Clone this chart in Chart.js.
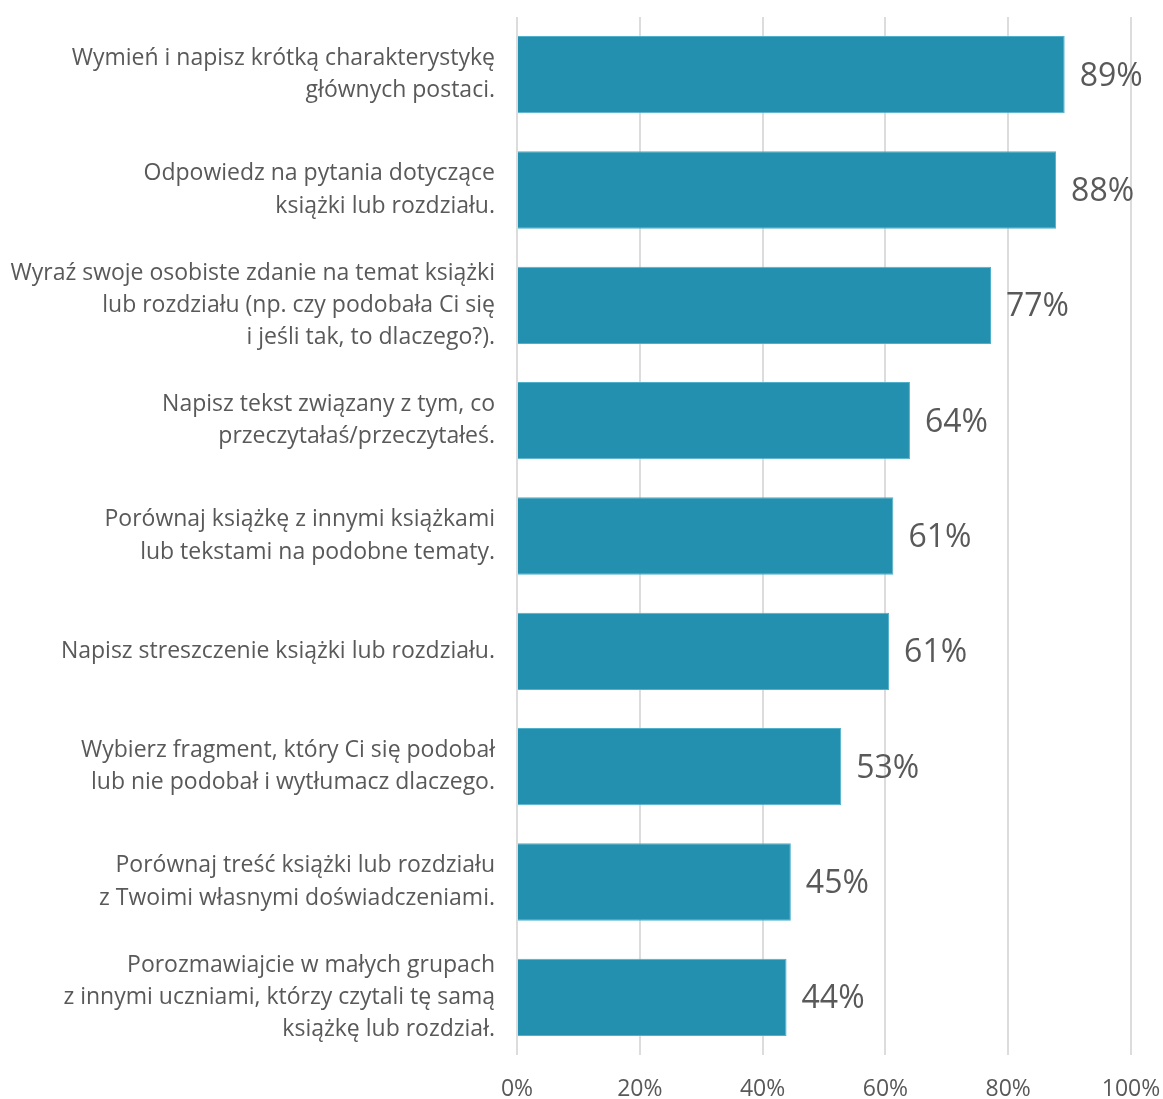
<!DOCTYPE html>
<html>
<head>
<meta charset="utf-8">
<script src="https://cdn.jsdelivr.net/npm/chart.js@4"></script>
<style>
  body { margin: 0; background: #fff; }
</style>
</head>
<body>
<canvas id="myChart" width="1163" height="1099"></canvas>
<script>
const categories = [
  ["Wymień i napisz krótką charakterystykę", "głównych postaci."],
  ["Odpowiedz na pytania dotyczące", "książki lub rozdziału."],
  ["Wyraź swoje osobiste zdanie na temat książki", "lub rozdziału (np. czy podobała Ci się", "i jeśli tak, to dlaczego?)."],
  ["Napisz tekst związany z tym, co", "przeczytałaś/przeczytałeś."],
  ["Porównaj książkę z innymi książkami", "lub tekstami na podobne tematy."],
  "Napisz streszczenie książki lub rozdziału.",
  ["Wybierz fragment, który Ci się podobał", "lub nie podobał i wytłumacz dlaczego."],
  ["Porównaj treść książki lub rozdziału", "z Twoimi własnymi doświadczeniami."],
  ["Porozmawiajcie w małych grupach", "z innymi uczniami, którzy czytali tę samą", "książkę lub rozdział."],
];
const values = [89.2, 87.8, 77.2, 64.0, 61.3, 60.6, 52.8, 44.6, 43.9];
const xTicks = [0, 20, 40, 60, 80, 100];

const FONT = "'Open Sans', Lato, sans-serif";
const TEXT = "#595959";

// value labels to the right of each bar
const barLabels = {
  id: "barLabels",
  afterDatasetsDraw(chart) {
    const ctx = chart.ctx;
    const meta = chart.getDatasetMeta(0);
    ctx.save();
    ctx.font = "32px " + FONT;
    ctx.fillStyle = TEXT;
    ctx.textAlign = "left";
    ctx.textBaseline = "middle";
    meta.data.forEach((bar, i) => {
      ctx.fillText(Math.round(values[i]) + "%", bar.x + 15, bar.y + 2);
    });
    ctx.restore();
  },
};

new Chart(document.getElementById("myChart"), {
  type: "bar",
  data: {
    labels: categories,
    datasets: [
      {
        data: values,
        backgroundColor: "#2290ae",
        borderColor: "#4fb0cc",
        borderWidth: 1,
        barPercentage: 0.67,
        categoryPercentage: 1,
      },
    ],
  },
  options: {
    indexAxis: "y",
    responsive: false,
    animation: false,
    layout: {
      padding: { top: 17, right: 32, bottom: 0, left: 0 },
    },
    plugins: {
      legend: { display: false },
      tooltip: { enabled: false },
    },
    scales: {
      x: {
        min: 0,
        max: 100,
        afterBuildTicks(scale) {
          scale.ticks = xTicks.map((v) => ({ value: v }));
        },
        afterFit(scale) {
          scale.height = 44;
          scale.paddingLeft = 0;
          scale.paddingRight = 0;
        },
        ticks: {
          callback: (v) => v + "%",
          color: TEXT,
          font: { family: FONT, size: 23 },
          padding: 21,
        },
        grid: { color: "#dcdcdc", lineWidth: 2, drawTicks: false },
        border: { display: false },
      },
      y: {
        afterFit(scale) {
          scale.width = 517;
          scale.paddingTop = 0;
          scale.paddingBottom = 0;
        },
        ticks: {
          color: TEXT,
          font: { family: FONT, size: 23, lineHeight: 1.4 },
          padding: 22,
        },
        grid: { display: false, drawTicks: false },
        border: { display: false },
      },
    },
  },
  plugins: [barLabels],
});
</script>
</body>
</html>
